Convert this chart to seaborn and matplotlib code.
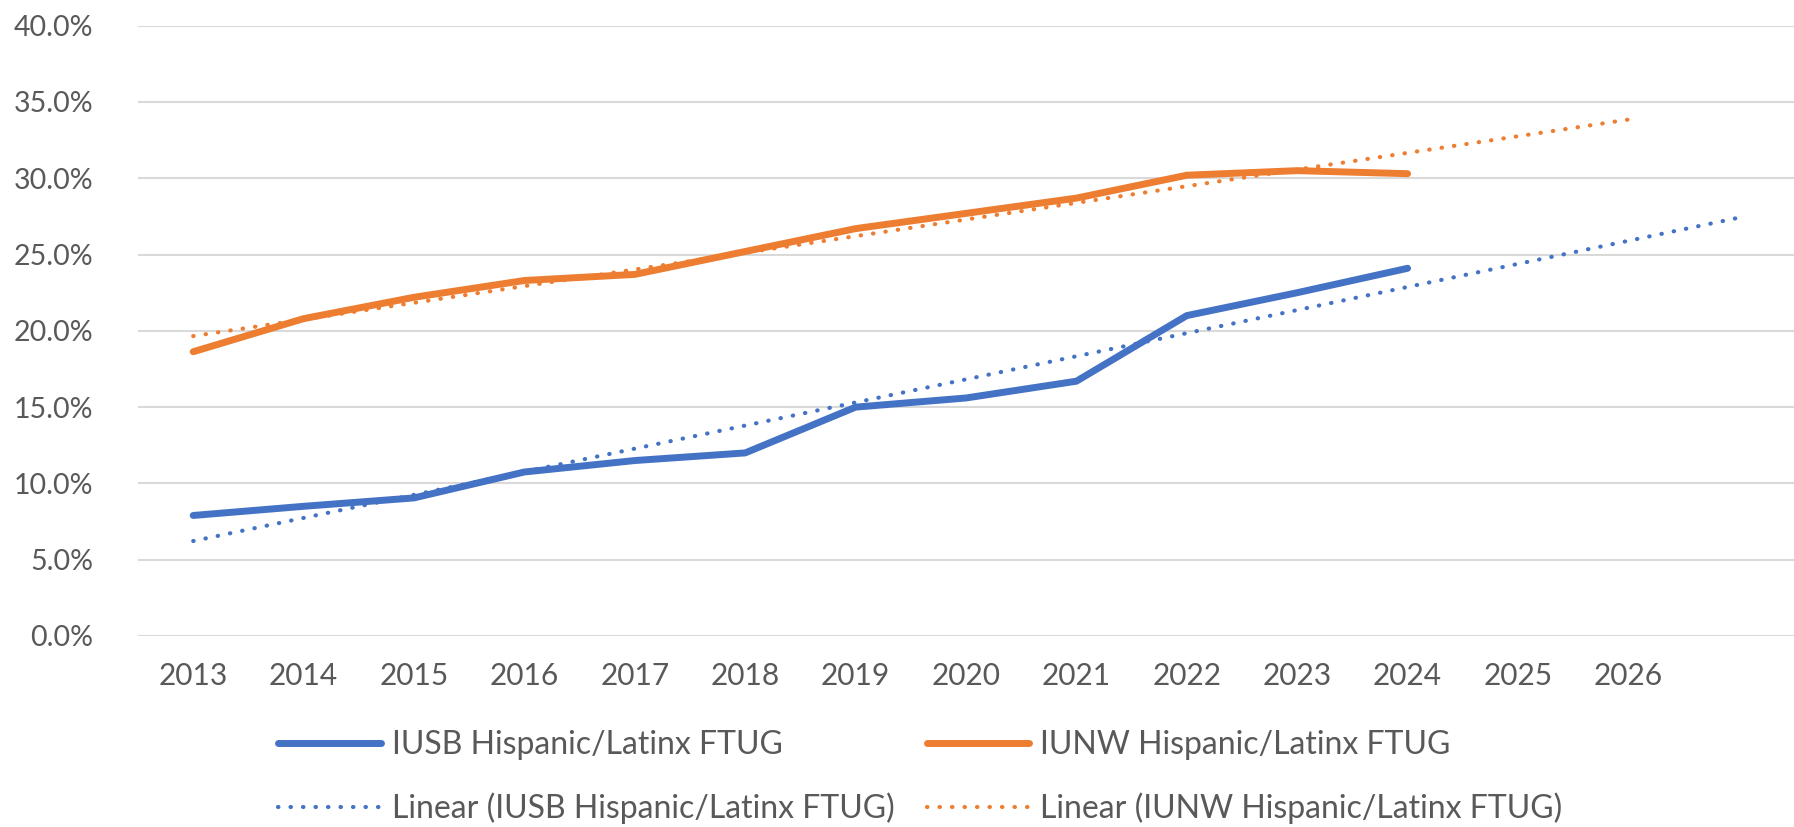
import numpy as np
import pandas as pd
import matplotlib
matplotlib.use('Agg')
import matplotlib.pyplot as plt
import seaborn as sns
from matplotlib.ticker import PercentFormatter

years = [2013, 2014, 2015, 2016, 2017, 2018, 2019, 2020, 2021, 2022, 2023, 2024]
iusb = [7.9, 8.5, 9.05, 10.75, 11.5, 12.0, 15.0, 15.6, 16.7, 21.0, 22.5, 24.1]
iunw = [18.63, 20.8, 22.2, 23.3, 23.7, 25.2, 26.7, 27.7, 28.7, 30.2, 30.5, 30.3]
tick_years = list(range(2013, 2027))
forward_iusb = 3   # trendline forecast periods
forward_iunw = 2

lab_iusb = 'IUSB Hispanic/Latinx FTUG'
lab_iunw = 'IUNW Hispanic/Latinx FTUG'

blue = '#4472C4'
orange = '#ED7D31'
grey = '#595959'

sns.set_theme(style='white')
plt.rcParams['font.family'] = ['Lato', 'DejaVu Sans']

df = pd.DataFrame({'year': years, lab_iusb: np.array(iusb) / 100, lab_iunw: np.array(iunw) / 100})

def trend(col, forward):
    k, b = np.polyfit(df['year'], df[col], 1)
    xs = np.arange(years[0], years[-1] + forward + 1)
    return pd.DataFrame({'year': xs, 'val': k * xs + b})

fig = plt.figure(figsize=(17.94, 8.27), dpi=100)
ax = fig.add_axes([138 / 1794, 1 - 636 / 827, 1 - 138 / 1794, (636 - 25.7) / 827])

dot = dict(lw=3.0, dashes=(0.1, 2.9), dash_capstyle='round')
sns.lineplot(data=df, x='year', y=lab_iusb, color=blue, lw=5, ax=ax, label=lab_iusb,
             solid_capstyle='round')
t1 = trend(lab_iusb, forward_iusb)
sns.lineplot(data=t1, x='year', y='val', color=blue, ax=ax,
             label=f'Linear ({lab_iusb})', **dot)
sns.lineplot(data=df, x='year', y=lab_iunw, color=orange, lw=5, ax=ax, label=lab_iunw,
             solid_capstyle='round')
t2 = trend(lab_iunw, forward_iunw)
sns.lineplot(data=t2, x='year', y='val', color=orange, ax=ax,
             label=f'Linear ({lab_iunw})', **dot)

ax.set_xlim(2012.5, 2027.5)
ax.set_ylim(0, 0.40)
ax.set_xticks(tick_years)
ax.set_yticks(np.arange(0, 0.401, 0.05))
ax.yaxis.set_major_formatter(PercentFormatter(1.0, decimals=1))
ax.grid(axis='y', color='#D9D9D9', lw=1.5)
ax.set_axisbelow(True)
for s in ax.spines.values():
    s.set_visible(False)
ax.tick_params(axis='x', length=0, pad=19, labelsize=21.5, labelcolor=grey)
ax.tick_params(axis='y', length=0, pad=32, labelsize=20.5, labelcolor=grey)
ax.set_xlabel('')
ax.set_ylabel('')
for lbl in ax.get_yticklabels():
    lbl.set_clip_on(False)

h, l = ax.get_legend_handles_labels()
ax.get_legend().remove()
fig.legend(h, l, ncol=2, loc='center', bbox_to_anchor=(0.513, 1 - 777 / 827),
           frameon=False, fontsize=23, labelcolor=grey, handlelength=3.2,
           handletextpad=0.35, columnspacing=1.0, labelspacing=1.0)

fig.savefig('out.png', dpi=100)
